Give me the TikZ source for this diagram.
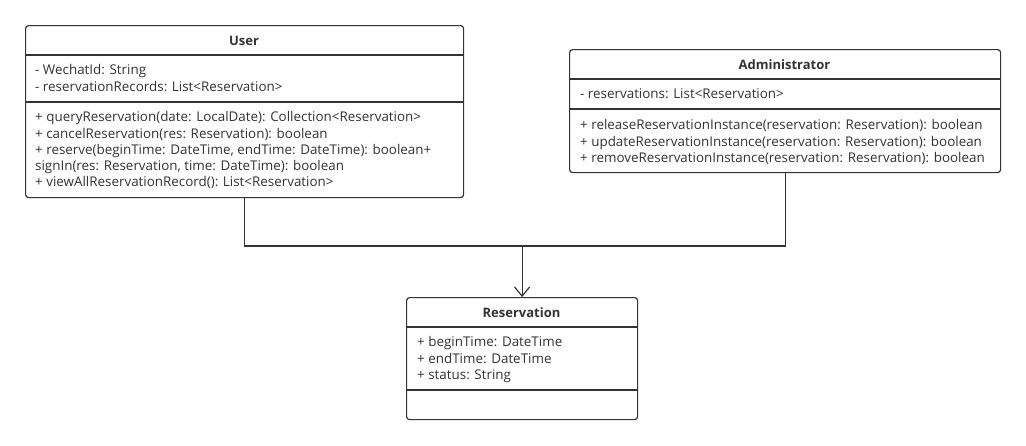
\documentclass[tikz,border=0pt]{standalone}
\usepackage{fontspec}
\setmainfont{Open Sans}
\usetikzlibrary{positioning, arrows.meta, calc}
\definecolor{umlline}{HTML}{333333}
\tikzset{
  classbox/.style={draw=umlline, line width=1.2pt, rounded corners=3pt, inner sep=0pt, fill=white},
  classname/.style={font=\fontsize{13}{15}\selectfont\bfseries, text=umlline, inner sep=0pt},
  members/.style={font=\fontsize{13.4}{16.2}\selectfont, text=umlline, align=left, anchor=north west, inner sep=0pt},
  divider/.style={draw=umlline, line width=1.2pt}
}
\begin{document}
\begin{tikzpicture}[x=1pt, y=-1pt]
\useasboundingbox (0,0) rectangle (1026,445);
% class boxes
\node[classbox, minimum width=438pt, minimum height=172pt, anchor=north west] (user) at (25,25) {};
\node[classbox, minimum width=431pt, minimum height=123pt, anchor=north west] (admin) at (569,49) {};
\node[classbox, minimum width=231pt, minimum height=122pt, anchor=north west] (resv) at (406,297) {};

% compartments
\draw[divider] (25,55) -- (463,55);
\draw[divider] (25,102) -- (463,102);
\draw[divider] (569,79) -- (1000,79);
\draw[divider] (569,109) -- (1000,109);
\draw[divider] (406,327) -- (637,327);
\draw[divider] (406,390) -- (637,390);

\node[classname] (usertitle) at (244,41) {User};
\node[members] (userattr) at (35,64.5) {- WechatId: String\\- reservationRecords: List<Reservation>};
\node[members] (userops) at (35,111.5) {+ queryReservation(date: LocalDate): Collection<Reservation>\\
+ cancelReservation(res: Reservation): boolean\\
+ reserve(beginTime: DateTime, endTime: DateTime): boolean+\\
signIn(res: Reservation, time: DateTime): boolean\\
+ viewAllReservationRecord(): List<Reservation>};

\node[classname] (admintitle) at (784.5,65) {Administrator};
\node[members] (adminattr) at (580,88.5) {- reservations: List<Reservation>};
\node[members] (adminops) at (580,119.5) {+ releaseReservationInstance(reservation: Reservation): boolean\\
+ updateReservationInstance(reservation: Reservation): boolean\\
+ removeReservationInstance(reservation: Reservation): boolean};

\node[classname] (resvtitle) at (521.5,313) {Reservation};
\node[members] (resvattr) at (417,336.5) {+ beginTime: DateTime\\+ endTime: DateTime\\+ status: String};

% association
\coordinate (join) at (resv.north |- 0,246);
\draw[umlline, line width=1.2pt] (user.south) |- (join) -| (admin.south);
\draw[umlline, line width=1.2pt, -{Straight Barb[length=9pt, width=15pt]}] (join) -- (resv.north);
\end{tikzpicture}
\end{document}
